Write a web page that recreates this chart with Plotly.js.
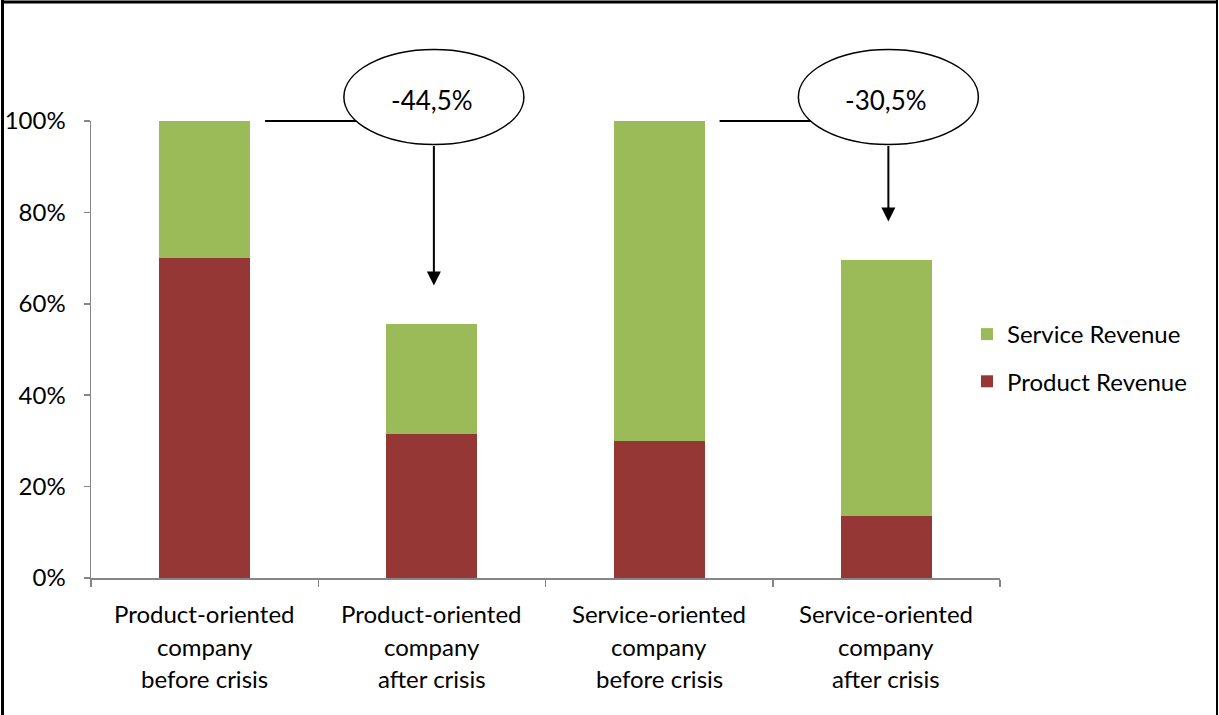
<!DOCTYPE html>
<html>
<head>
<meta charset="utf-8">
<script src="https://cdn.plot.ly/plotly-3.0.1.min.js"></script>
<style>
html,body{margin:0;padding:0;background:#fff;}
#chart{width:1219px;height:715px;}
</style>
</head>
<body>
<div id="chart"></div>
<script>
// ---- data ----
var categories = ["Product-oriented company before crisis", "Product-oriented company after crisis", "Service-oriented company before crisis", "Service-oriented company after crisis"];
var labelLines = [
  ["Product-oriented", "company", "before crisis"],
  ["Product-oriented", "company", "after crisis"],
  ["Service-oriented", "company", "before crisis"],
  ["Service-oriented", "company", "after crisis"]
];
var productRevenue = [70, 31.5, 30, 13.5];
var serviceRevenue = [30, 24, 70, 56];
var changeLabels = ["-44,5%", "-30,5%"];
var changeFrom = [0, 2];   // index of "before" category
var changeTo = [1, 3];     // index of "after" category
var yTicks = [0, 20, 40, 60, 80, 100];
var yTickText = ["0%", "20%", "40%", "60%", "80%", "100%"];

// ---- layout geometry ----
var FW = 1219, FH = 715;
var M = {l: 91, r: 219, t: 121, b: 137};
var PW = FW - M.l - M.r, PH = FH - M.t - M.b;
var BARGAP = 0.6;
var FONT = "Lato, 'Open Sans', sans-serif";
var FS = 24;
function pxX(px){ return (px - M.l) / PW; }
function pxY(py){ return (FH - M.b - py) / PH; }
function catX(i){ return (i + 0.5) / categories.length; }
function valY(v){ return v / 100; }
function catPx(i){ return M.l + catX(i) * PW; }
function valPx(v){ return FH - M.b - valY(v) * PH; }

var traces = [
  {type: "bar", name: "Product Revenue", x: categories, y: productRevenue,
   marker: {color: "#953735"}, legendgroup: "p", legendrank: 2, hoverinfo: "y+name"},
  {type: "bar", name: "Service Revenue", x: categories, y: serviceRevenue,
   marker: {color: "#9BBB59"}, legendgroup: "s", legendrank: 1, hoverinfo: "y+name"}
];

var shapes = [];
var annotations = [];

// frame
shapes.push({type: "line", xref: "paper", yref: "paper", x0: pxX(2.5), x1: pxX(2.5), y0: pxY(0), y1: pxY(FH), line: {color: "#000", width: 3}});
shapes.push({type: "line", xref: "paper", yref: "paper", x0: pxX(1), x1: pxX(1218), y0: pxY(2), y1: pxY(2), line: {color: "#000", width: 3}});
shapes.push({type: "line", xref: "paper", yref: "paper", x0: pxX(1217), x1: pxX(1217), y0: pxY(0), y1: pxY(FH), line: {color: "#000", width: 2}});

// x category labels
var lineY = [613, 646, 678];
for (var i = 0; i < categories.length; i++) {
  for (var k = 0; k < 3; k++) {
    annotations.push({xref: "paper", yref: "paper", x: catX(i), y: pxY(lineY[k]),
      text: labelLines[i][k], showarrow: false, xanchor: "center", yanchor: "middle",
      font: {family: FONT, size: FS, color: "#000"}});
  }
}

// change callouts
var catW = PW / categories.length;
var barHalf = catW * (1 - BARGAP) / 2;
var EW = 90, EH = 47.5;
for (var j = 0; j < changeLabels.length; j++) {
  var from = changeFrom[j], to = changeTo[j];
  var cx = catPx(to) + 2;
  var topTotal = productRevenue[from] + serviceRevenue[from];
  var lineYpx = valPx(topTotal);
  var cy = lineYpx - 24;
  var afterTotal = productRevenue[to] + serviceRevenue[to];
  // connector line from before-bar
  shapes.push({type: "line", xref: "paper", yref: "paper",
    x0: pxX(catPx(from) + barHalf + 15), x1: pxX(cx - 40),
    y0: valY(topTotal), y1: valY(topTotal), line: {color: "#000", width: 2}});
  // ellipse
  shapes.push({type: "circle", xref: "paper", yref: "paper",
    x0: pxX(cx - EW), x1: pxX(cx + EW), y0: pxY(cy + EH), y1: pxY(cy - EH),
    fillcolor: "#fff", line: {color: "#000", width: 1.5}});
  annotations.push({xref: "paper", yref: "paper", x: pxX(cx - 2), y: pxY(cy + 3),
    text: changeLabels[j], showarrow: false, xanchor: "center", yanchor: "middle",
    font: {family: FONT, size: 26, color: "#000"}});
  // arrow
  var tipPx = valPx(afterTotal + 8.5);
  annotations.push({xref: "paper", yref: "paper", x: pxX(cx), y: pxY(tipPx), text: "",
    showarrow: true, arrowhead: 2, arrowsize: 1.4, arrowwidth: 2, arrowcolor: "#000",
    ax: 0, ay: -(tipPx - (cy + EH)), standoff: 0});
}

var layout = {
  width: FW, height: FH,
  margin: M,
  paper_bgcolor: "#fff", plot_bgcolor: "#fff",
  barmode: "stack", bargap: BARGAP,
  font: {family: FONT, size: FS, color: "#000"},
  showlegend: true,
  legend: {x: pxX(967), y: pxY(312), xanchor: "left", yanchor: "top",
    traceorder: "grouped", tracegroupgap: 13,
    font: {family: FONT, size: FS, color: "#000"}, bgcolor: "rgba(0,0,0,0)"},
  xaxis: {type: "category", range: [-0.5, 3.5], showticklabels: false,
    showline: true, linecolor: "#868686", linewidth: 1.5,
    ticks: "outside", tickson: "boundaries", ticklen: 7, tickcolor: "#868686", tickwidth: 1.5,
    showgrid: false, zeroline: false, fixedrange: true},
  yaxis: {range: [0, 100], tickvals: yTicks, ticktext: yTickText,
    showline: true, linecolor: "#868686", linewidth: 1.5,
    ticks: "outside", ticklen: 6, tickcolor: "#868686", tickwidth: 1.5,
    ticklabelstandoff: 13,
    showgrid: false, zeroline: false, fixedrange: true,
    tickfont: {family: FONT, size: FS, color: "#000"}},
  shapes: shapes,
  annotations: annotations
};

Plotly.newPlot("chart", traces, layout, {displayModeBar: false, staticPlot: true});
</script>
</body>
</html>
